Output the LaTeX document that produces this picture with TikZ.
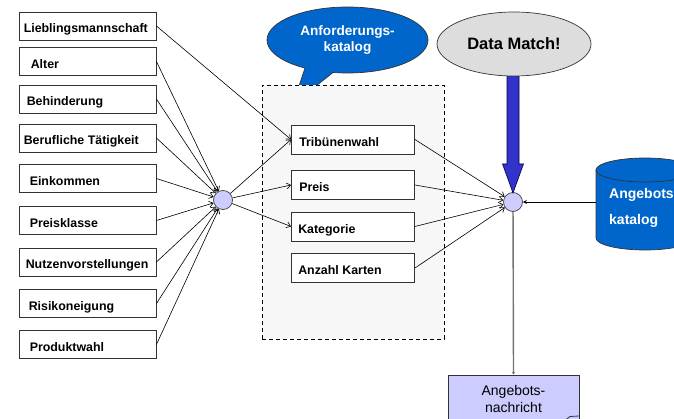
\documentclass[tikz,border=0pt]{standalone}
\usepackage{fontspec}
\setmainfont{Liberation Sans}
\usetikzlibrary{arrows.meta,shapes.geometric}
\definecolor{bblue}{HTML}{0066CC}
\definecolor{dmgray}{HTML}{DDDDDD}
\definecolor{arrblue}{HTML}{3333CC}
\definecolor{lav}{HTML}{CCCCFF}
\definecolor{boxfill}{HTML}{F7F7F7}
\newcommand\mkleft[4]{\node[lbox] (#1) at (87.5,#2) {};\node[lbl] at ([xshift=#3pt,yshift=-7pt]#1.west) {#4};}
\newcommand\mkmid[4]{\node[mbox] (#1) at (353,#2) {};\node[lbl] at ([xshift=#3pt,yshift=-7pt]#1.west) {#4};}
\begin{document}
\begin{tikzpicture}[x=1pt,y=-1pt,
 lbox/.style={draw=black!80, line width=0.9pt, minimum width=137pt, minimum height=28pt, inner sep=0pt, fill=white},
 mbox/.style={draw=black!80, line width=0.9pt, minimum width=123pt, minimum height=29pt, inner sep=0pt, fill=white},
 lbl/.style={anchor=base west, inner sep=0pt, font=\bfseries\fontsize{12.4}{14}\selectfont},
 conn/.style={line width=0.6pt, -{Straight Barb[length=4pt,width=6pt]}},
 hub/.style={circle, draw=black!75, fill=lav, minimum size=19pt, inner sep=0pt, line width=0.7pt}]
\useasboundingbox (0,0) rectangle (674,419);

% speech bubble
\node[ellipse, fill=bblue, draw=black!80, line width=0.7pt, minimum width=161pt, minimum height=66pt, inner sep=0pt,
  text=white, align=center, font=\bfseries\fontsize{13.6}{16}\selectfont] (anf) at (347.5,40) {Anforderungs-\\katalog};
\fill[bblue] (305,68) -- (299,86) -- (316,86) -- (333,72.5) -- (333,64) -- (305,62) -- cycle;
\draw[black!80, line width=0.7pt] (305,68) -- (299,86);
\draw[black!80, line width=0.7pt] (333,72.5) -- (316,86);

% catalogue container
\node[draw, dash pattern=on 4pt off 3pt, fill=boxfill, line width=0.7pt, minimum width=182pt, minimum height=254pt, inner sep=0pt] (cat) at (353,212) {};

% left boxes
\mkleft{b1}{26}{5}{Lieblingsmannschaft}
\mkleft{b2}{61.5}{12}{Alter}
\mkleft{b3}{99}{8}{Behinderung}
\mkleft{b4}{138}{5}{Berufliche Tätigkeit}
\mkleft{b5}{178.5}{11}{Einkommen}
\mkleft{b6}{220.5}{11}{Preisklasse}
\mkleft{b7}{262}{7}{Nutzenvorstellungen}
\mkleft{b8}{303.5}{10}{Risikoneigung}
\mkleft{b9}{344.5}{11}{Produktwahl}

% middle boxes
\mkmid{t1}{139.5}{8}{Tribünenwahl}
\mkmid{t2}{185}{8}{Preis}
\mkmid{t3}{226.5}{7}{Kategorie}
\mkmid{t4}{268}{7}{Anzahl Karten}

% hubs
\node[hub] (h1) at (223,200) {};
\node[hub] (h2) at (513,202) {};

% connectors
\foreach \n in {b2,b3,b4,b5,b6,b7,b8,b9} \draw[conn] (\n.east) -- (h1);
\draw[conn] (b1.east) -- (t1.west);
\foreach \n in {t1,t2,t3} \draw[conn] (h1) -- (\n.west);
\foreach \n in {t1,t2,t3,t4} \draw[conn] (\n.east) -- (h2);

% big arrow and Data Match
\filldraw[fill=arrblue, draw=black!70!blue, line width=0.6pt]
  (507,70) -- (507,164) -- (502.5,164) -- (513,193) -- (523.5,164) -- (519,164) -- (519,70) -- cycle;
\node[ellipse, fill=dmgray, draw=black!80, line width=0.7pt, minimum width=154pt, minimum height=64pt, inner sep=0pt,
  font=\bfseries\fontsize{16.5}{18}\selectfont] (dm) at (514,44) {Data Match!};

% cylinder
\filldraw[fill=bblue, draw=black!80, line width=0.7pt]
  (596,170) -- (596,238) arc[start angle=180, end angle=0, x radius=49, y radius=12] -- (694,170) -- cycle;
\filldraw[fill=bblue, draw=black!80, line width=0.7pt] (645,170) ellipse [x radius=49, y radius=12];
\node[anchor=base west, inner sep=0pt, text=white, font=\bfseries\fontsize{14}{16}\selectfont] (cyl1) at (609,199) {Angebots};
\node[anchor=base west, inner sep=0pt, text=white, font=\bfseries\fontsize{14}{16}\selectfont] (cyl2) at (609,225) {katalog};
\coordinate (cylw) at (596,202);
\draw[line width=0.6pt, -{Stealth[length=4pt,width=4pt]}] (cylw) -- (h2);

% offer message
\node[draw=black!80, fill=lav, line width=0.7pt, minimum width=131pt, minimum height=48pt, inner sep=0pt, align=center,
  font=\fontsize{14}{16.5}\selectfont] (msg) at (513.5,399) {Angebots-\\nachricht};
\draw[black!80, line width=0.8pt] (566,419.5) -- (570,416.5) -- (579,416);
\draw[black!55, line width=1.4pt, -{Stealth[length=3pt,width=3.5pt]}] (h2) -- (msg.north);
\end{tikzpicture}
\end{document}
